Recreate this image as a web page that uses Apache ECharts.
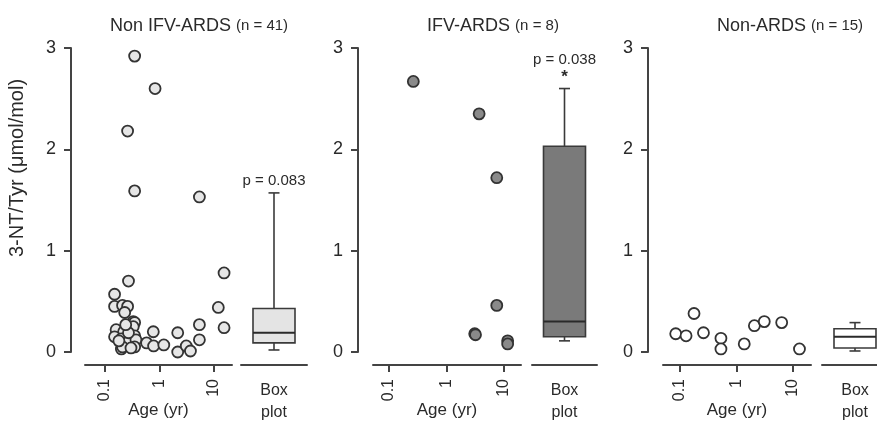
<!DOCTYPE html>
<html><head><meta charset="utf-8">
<script src="https://cdn.jsdelivr.net/npm/echarts@6/dist/echarts.min.js"></script>
<style>html,body{margin:0;padding:0;background:#fff}#c{width:877px;height:421px}</style>
</head><body><div id="c"></div>
<script>
// ---------- data ----------
const panelTitles = ['Non IFV-ARDS', 'IFV-ARDS', 'Non-ARDS'];
const panelCounts = ['(n = 41)', '(n = 8)', '(n = 15)'];
const yAxisName = '3-NT/Tyr (μmol/mol)';
const xAxisName = 'Age (yr)';
const xTickValues = [0.1, 1, 10];
const yTickValues = [0, 1, 2, 3];
const boxCategory = ['Box\nplot'];

// Non IFV-ARDS: age (yr), 3-NT/Tyr
const ages1 = [0.35, 0.83, 0.26, 0.35, 5.4, 15.3, 0.27, 0.15, 0.15, 0.21, 0.26, 12, 0.23, 0.33, 0.35, 5.4, 15.3, 0.33, 0.16, 0.22, 0.15, 0.20, 0.35, 0.27, 0.37, 0.20, 0.21, 0.35, 0.77, 0.58, 0.78, 1.2, 2.16, 2.16, 3.1, 3.7, 5.4, 0.27, 0.18, 0.30, 0.24];
const vals1 = [2.92, 2.60, 2.18, 1.59, 1.53, 0.78, 0.70, 0.57, 0.45, 0.46, 0.45, 0.44, 0.39, 0.30, 0.29, 0.27, 0.24, 0.25, 0.22, 0.20, 0.15, 0.13, 0.16, 0.10, 0.12, 0.03, 0.05, 0.05, 0.20, 0.09, 0.06, 0.07, 0.19, 0.00, 0.06, 0.01, 0.12, 0.19, 0.11, 0.04, 0.27];
// IFV-ARDS
const ages2 = [0.265, 3.7, 7.5, 7.5, 3.1, 3.2, 11.6, 11.6];
const vals2 = [2.67, 2.35, 1.72, 0.46, 0.18, 0.17, 0.11, 0.08];
// Non-ARDS
const ages3 = [0.084, 0.128, 0.177, 0.26, 0.53, 0.53, 1.37, 2.07, 3.1, 6.3, 13];
const vals3 = [0.18, 0.16, 0.38, 0.19, 0.135, 0.03, 0.08, 0.26, 0.30, 0.29, 0.03];

// box plots: [min whisker, Q1, median, Q3, max whisker]
const box1 = [0.02, 0.09, 0.19, 0.43, 1.57];
const box2 = [0.11, 0.15, 0.30, 2.03, 2.60];
const box3 = [0.01, 0.04, 0.15, 0.23, 0.29];
const pLabels = ['p = 0.083', 'p = 0.038', ''];
const stars = ['', '*', ''];

// ---------- layout / style ----------
const agesAll = [ages1, ages2, ages3];
const valsAll = [vals1, vals2, vals3];
const boxesAll = [box1, box2, box3];
const layout = [
  {sl: 85,  sw: 147, bl: 241, bw: 66, xmin: 0.043,  xmax: 21.4, yOff: 14, tx: 194},
  {sl: 373, sw: 148, bl: 532, bw: 65, xmin: 0.0527, xmax: 19.8, yOff: 15, tx: 488},
  {sl: 663, sw: 148, bl: 822, bw: 66, xmin: 0.050,  xmax: 20.8, yOff: 15, tx: 785}
];
const pointFill = ['#e6e6e6', '#8a8a8a', '#ffffff'];
const boxFill = ['#e4e4e4', '#7a7a7a', '#ffffff'];
const FONT = 'Liberation Sans, Arial, sans-serif';
const ink = '#2a2a2a';
const lineCol = '#444';
const TOP = 48, H = 304;

const grids = [], xAxes = [], yAxes = [], series = [], titles = [];
layout.forEach((L, i) => {
  const gs = grids.length;
  grids.push({left: L.sl, top: TOP, width: L.sw, height: H, outerBoundsMode: 'none', containLabel: false});
  grids.push({left: L.bl, top: TOP, width: L.bw, height: H, outerBoundsMode: 'none', containLabel: false});
  titles.push({
    text: '{a|' + panelTitles[i] + '} {b|' + panelCounts[i] + '}',
    left: L.tx, top: 12, textAlign: 'center',
    textStyle: {fontWeight: 'normal', rich: {a: {fontSize: 18, fontWeight: 'normal', color: ink, fontFamily: FONT}, b: {fontSize: 15, fontWeight: 'normal', color: ink, fontFamily: FONT}}}
  });
  xAxes.push({
    type: 'log', logBase: 10, gridIndex: gs, min: L.xmin, max: L.xmax, offset: 13,
    name: xAxisName, nameLocation: 'middle', nameGap: 37, nameMoveOverlap: false,
    nameTextStyle: {fontSize: 17, color: ink, fontFamily: FONT, verticalAlign: 'top'},
    axisLine: {show: true, onZero: false, lineStyle: {color: lineCol, width: 2}},
    axisTick: {show: true, length: 7, customValues: xTickValues, lineStyle: {color: lineCol, width: 2}},
    axisLabel: {show: true, rotate: 90, margin: 14, fontSize: 16, color: ink, fontFamily: FONT,
      customValues: xTickValues, formatter: v => String(+v.toPrecision(3))},
    splitLine: {show: false}, minorTick: {show: false}
  });
  xAxes.push({
    type: 'category', gridIndex: gs + 1, data: boxCategory, offset: 13,
    axisLine: {show: true, onZero: false, lineStyle: {color: lineCol, width: 2}},
    axisTick: {show: false},
    axisLabel: {margin: 15, fontSize: 16, lineHeight: 22, color: ink, fontFamily: FONT},
    splitLine: {show: false}
  });
  yAxes.push({
    type: 'value', gridIndex: gs, min: 0, max: 3, interval: 1, offset: L.yOff,
    axisLine: {show: true, onZero: false, lineStyle: {color: lineCol, width: 2}},
    axisTick: {show: true, length: 7, lineStyle: {color: lineCol, width: 2}},
    axisLabel: {fontSize: 18, margin: 15, color: ink, fontFamily: FONT},
    splitLine: {show: false}
  });
  yAxes.push({
    type: 'value', gridIndex: gs + 1, min: 0, max: 3, interval: 1, show: false,
    splitLine: {show: false}
  });
  series.push({
    type: 'scatter', xAxisIndex: gs, yAxisIndex: gs,
    data: agesAll[i].map((a, k) => [a, valsAll[i][k]]),
    symbol: 'circle', symbolSize: 11, clip: false,
    itemStyle: {color: pointFill[i], borderColor: '#333', borderWidth: 1.8, opacity: 1}
  });
  const b = boxesAll[i];
  series.push({
    type: 'custom', xAxisIndex: gs + 1, yAxisIndex: gs + 1,
    data: [[0, b[0], b[1], b[2], b[3], b[4]]],
    renderItem: (params, api) => {
      const cx = api.coord([0, api.value(3)])[0];
      const y = [1, 2, 3, 4, 5].map(d => api.coord([0, api.value(d)])[1]);
      const bw = 42, cw = 11;
      const st = {stroke: '#3a3a3a', lineWidth: 1.6, fill: null};
      const ch = [
        {type: 'line', shape: {x1: cx, y1: y[4], x2: cx, y2: y[3]}, style: st},
        {type: 'line', shape: {x1: cx, y1: y[1], x2: cx, y2: y[0]}, style: st},
        {type: 'line', shape: {x1: cx - cw / 2, y1: y[4], x2: cx + cw / 2, y2: y[4]}, style: st},
        {type: 'line', shape: {x1: cx - cw / 2, y1: y[0], x2: cx + cw / 2, y2: y[0]}, style: st},
        {type: 'rect', shape: {x: cx - bw / 2, y: y[3], width: bw, height: y[1] - y[3]},
          style: {fill: boxFill[i], stroke: '#3a3a3a', lineWidth: 1.6}},
        {type: 'line', shape: {x1: cx - bw / 2, y1: y[2], x2: cx + bw / 2, y2: y[2]}, style: {stroke: '#2a2a2a', lineWidth: 2}}
      ];
      if (stars[i]) {
        ch.push({type: 'text', x: cx, y: y[4] - 11, style: {text: stars[i], fontSize: 17, fontWeight: 'bold', fill: ink, align: 'center', verticalAlign: 'middle', fontFamily: FONT}});
        ch.push({type: 'text', x: cx, y: y[4] - 29, style: {text: pLabels[i], fontSize: 15, fill: ink, align: 'center', verticalAlign: 'middle', fontFamily: FONT}});
      } else if (pLabels[i]) {
        ch.push({type: 'text', x: cx, y: y[4] - 12, style: {text: pLabels[i], fontSize: 15, fill: ink, align: 'center', verticalAlign: 'middle', fontFamily: FONT}});
      }
      return {type: 'group', children: ch};
    }
  });
});

const chart = echarts.init(document.getElementById('c'), null, {renderer: 'canvas'});
chart.setOption({
  backgroundColor: '#fff',
  animation: false,
  textStyle: {fontFamily: FONT},
  title: titles,
  grid: grids,
  xAxis: xAxes,
  yAxis: yAxes,
  series: series,
  graphic: [{
    type: 'text', x: 17, y: 168, rotation: Math.PI / 2,
    style: {text: yAxisName, fontSize: 20, fill: ink, align: 'center', verticalAlign: 'middle', fontFamily: FONT}
  }]
});
</script>
</body></html>
